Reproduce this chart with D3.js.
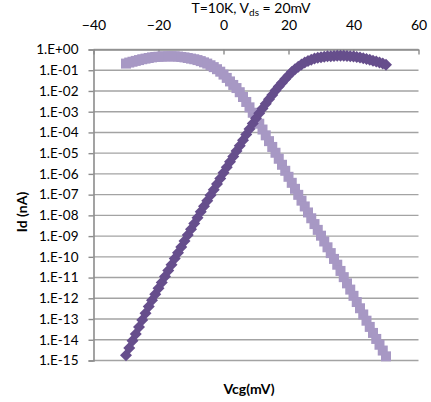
<!DOCTYPE html>
<html>
<head>
<meta charset="utf-8">
<script src="https://cdn.jsdelivr.net/npm/d3@7"></script>
<style>
  body { margin: 0; background: #fff; }
  text { font-family: Lato, "Open Sans", sans-serif; fill: #000; }
</style>
</head>
<body>
<div id="my_dataviz"></div>
<script>
// Gate voltage (mV), one point per mV
var vcg = d3.range(-30, 51);

// log10(Id / nA)
var darkLog = [
  -14.75, -14.40, -14.05, -13.72, -13.38, -13.05, -12.72, -12.40, -12.10, -11.80,
  -11.52, -11.24, -10.95, -10.66, -10.38, -10.08, -9.80, -9.52, -9.24, -8.95,
  -8.67, -8.39, -8.11, -7.83, -7.56, -7.29, -7.03, -6.76, -6.49, -6.22,
  -5.95, -5.68, -5.42, -5.16, -4.90, -4.64, -4.38, -4.10, -3.83, -3.57,
  -3.32, -3.07, -2.84, -2.62, -2.40, -2.19, -1.98, -1.79, -1.60, -1.42,
  -1.25, -1.09, -0.95, -0.83, -0.72, -0.63, -0.55, -0.49, -0.44, -0.40,
  -0.37, -0.35, -0.33, -0.32, -0.31, -0.30, -0.30, -0.30, -0.31, -0.32,
  -0.34, -0.36, -0.39, -0.42, -0.46, -0.50, -0.54, -0.58, -0.63, -0.68,
  -0.74
];
var lightLog = [
  -0.68, -0.63, -0.59, -0.55, -0.51, -0.47, -0.44, -0.41, -0.38, -0.36,
  -0.35, -0.34, -0.33, -0.33, -0.33, -0.33, -0.34, -0.36, -0.38, -0.41,
  -0.44, -0.47, -0.51, -0.56, -0.62, -0.68, -0.76, -0.85, -0.95, -1.07,
  -1.21, -1.37, -1.54, -1.71, -1.86, -2.06, -2.29, -2.53, -2.79, -3.05,
  -3.31, -3.58, -3.86, -4.14, -4.42, -4.70, -4.98, -5.27, -5.56, -5.85,
  -6.14, -6.43, -6.72, -7.01, -7.29, -7.57, -7.86, -8.14, -8.42, -8.70,
  -8.98, -9.26, -9.54, -9.82, -10.10, -10.38, -10.68, -10.98, -11.28, -11.58,
  -11.88, -12.18, -12.48, -12.78, -13.08, -13.38, -13.67, -13.96, -14.24, -14.52,
  -14.80
];

// Axis ticks
var xTicks = [-40, -20, 0, 20, 40, 60];
var yExps = d3.range(0, -16, -1);

var width = 431, height = 402;
var svg = d3.select("#my_dataviz")
  .append("svg")
    .attr("width", width)
    .attr("height", height);

var x = d3.scaleLinear()
  .domain([-40, 60])
  .range([93.5, 418.5]);
var y = d3.scaleLog()
  .domain([1e-15, 1])
  .range([360.5, 49.5]);

//Gridlines
svg.append("g")
  .selectAll("line")
  .data(yExps)
  .enter()
  .append("line")
    .attr("x1", x(-40))
    .attr("x2", x(60))
    .attr("y1", function(d){ return y(Math.pow(10, d)); })
    .attr("y2", function(d){ return y(Math.pow(10, d)); })
    .style("stroke", "#a3a3a3")
    .style("stroke-width", 1.4);

//Left axis
var yAxis = svg.append("g")
  .attr("transform", "translate(" + x(-40) + ",0)")
  .call(d3.axisLeft(y)
    .tickValues(yExps.map(function(d){ return Math.pow(10, d); }))
    .tickSize(5)
    .tickPadding(10)
    .tickFormat(function(d){
      var e = Math.round(Math.log10(d));
      return "1.E" + (e < 0 ? "-" : "+") + d3.format("02")(Math.abs(e));
    }));
yAxis.select(".domain").style("stroke", "#8c8c8c").style("stroke-width", 1.6);
yAxis.selectAll(".tick line").style("stroke", "#8c8c8c").style("stroke-width", 1.4);
yAxis.selectAll(".tick text").style("font-size", "13.5px").style("font-family", "Lato, sans-serif");

//Top axis, ticks pointing into the plot
var xAxis = svg.append("g")
  .attr("transform", "translate(0," + y(1) + ")")
  .call(d3.axisTop(x)
    .tickValues(xTicks)
    .tickSizeInner(-5)
    .tickSizeOuter(0)
    .tickPadding(20));
xAxis.select(".domain").style("stroke", "#8c8c8c").style("stroke-width", 1.6);
xAxis.selectAll(".tick line").style("stroke", "#8c8c8c").style("stroke-width", 1.4);
xAxis.selectAll(".tick text").style("font-size", "14px").style("font-family", "Lato, sans-serif");

//Light series: squares
svg.append("g")
  .selectAll("rect")
  .data(vcg)
  .enter()
  .append("rect")
    .attr("x", function(d){ return x(d) - 5; })
    .attr("y", function(d, i){ return y(Math.pow(10, lightLog[i])) - 5; })
    .attr("width", 10)
    .attr("height", 10)
    .style("fill", "#a798c4");

//Dark series: diamonds
svg.append("g")
  .selectAll("path")
  .data(vcg)
  .enter()
  .append("path")
    .attr("d", "M0,-6L6,0L0,6L-6,0Z")
    .attr("transform", function(d, i){
      return "translate(" + x(d) + "," + y(Math.pow(10, darkLog[i])) + ")";
    })
    .style("fill", "#664e8c");

//Title
var title = svg.append("text")
  .attr("x", 251)
  .attr("y", 13)
  .attr("text-anchor", "middle")
  .style("font-size", "14px");
title.append("tspan").text("T=10K, V");
title.append("tspan").attr("dy", 3).style("font-size", "10px").text("ds");
title.append("tspan").attr("dy", -3).text(" = 20mV");

//Axis labels
svg.append("text")
  .attr("x", 249)
  .attr("y", 394)
  .attr("text-anchor", "middle")
  .style("font-size", "14px")
  .style("font-weight", "bold")
  .text("Vcg(mV)");
svg.append("text")
  .attr("transform", "translate(27,212) rotate(-90)")
  .attr("text-anchor", "middle")
  .style("font-size", "14px")
  .style("font-weight", "bold")
  .text("Id (nA)");
</script>
</body>
</html>
